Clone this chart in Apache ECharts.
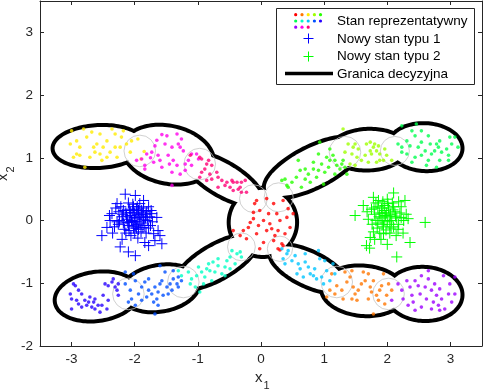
<!DOCTYPE html>
<html><head><meta charset="utf-8">
<script src="https://cdn.jsdelivr.net/npm/echarts@6/dist/echarts.min.js"></script>
<style>html,body{margin:0;padding:0;background:#fff}#c{width:483px;height:391px}</style>
</head><body><div id="c"></div>
<script>
const xTicks = [-3, -2, -1, 0, 1, 2, 3];
const yTicks = [-2, -1, 0, 1, 2, 3];
const legendLabels = ['Stan reprezentatywny', 'Nowy stan typu 1', 'Nowy stan typu 2', 'Granica decyzyjna'];
const clusterColors = ['#ff0000','#ff7600','#ffeb00','#9dff00','#27ff00','#00ff4f','#00ffc4','#00c4ff','#004fff','#2700ff','#9d00ff','#ff00eb','#ff0076'];

const stateRed = [[-0.07,0.32],[0.09,0.35],[0.20,0.27],[0.35,0.32],[-0.02,0.16],[0.25,0.11],[0.43,0.19],[-0.12,0.03],[0.04,0],[0.14,-0.05],[0.30,0],[0.46,-0.11],[-0.20,-0.11],[-0.07,-0.21],[0.09,-0.16],[0.22,-0.24],[0.38,-0.21],[-0.33,-0.24],[-0.23,-0.29],[0.04,-0.35],[0.20,-0.32],[0.33,-0.37],[-0.12,0.13],[0.12,0.11],[-0.04,-0.08],[0.17,-0.13],[0.27,-0.16],[-0.17,-0.03],[0.41,0.05],[-0.02,-0.45],[0.27,-0.45],[0.51,0.11],[-0.44,-0.16],[-0.28,-0.16],[-0.10,0.27],[0.35,-0.40],[0.30,-0.47]];
const stateOrange = [[1.12,-0.85],[1.20,-1.04],[1.09,-1.11],[1.17,-1.17],[1.28,-1.11],[1.33,-0.82],[1.36,-0.98],[1.41,-0.90],[1.44,-0.80],[1.46,-1.06],[1.49,-1.17],[1.54,-1.11],[1.59,-1.01],[1.62,-0.82],[1.70,-0.85],[1.73,-1.06],[1.75,-1.14],[1.78,-0.96],[1.83,-1.19],[1.88,-1.11],[1.91,-1.04],[1.94,-0.85],[1.86,-1.27],[1.99,-1.19],[2.02,-1.01],[1.52,-1.27],[1.30,-1.25],[1.70,-1.25],[1.78,-1.49],[1.04,-1.22],[1.96,-1.33],[2.07,-1.11],[1.65,-0.96],[1.44,-1.25]];
const stateYellow = [[-3.00,1.43],[-2.81,1.46],[-2.92,1.27],[-3.02,1.22],[-2.76,1.33],[-2.65,1.17],[-2.55,1.38],[-2.44,1.27],[-2.36,1.46],[-2.31,1.17],[-2.55,1.06],[-2.71,1.01],[-2.87,1.04],[-2.97,1.01],[-2.79,0.85],[-2.44,1.01],[-2.28,1.01],[-2.21,1.33],[-2.13,1.22],[-2.07,1.09],[-2.39,1.09],[-2.60,1.22],[-2.50,1.17],[-2.87,1.17],[-2.31,1.38],[-2.18,1.43],[-2.68,1.41],[-2.05,1.27],[-2.92,1.06],[-2.52,0.96],[-2.63,1.09],[-2.23,1.17],[-1.95,1.30],[-1.85,1.10],[-1.90,0.98]];
const stateYellowGreen = [[1.30,1.46],[1.38,1.22],[1.46,1.17],[1.49,1.22],[1.54,1.14],[1.44,1.06],[1.52,1.01],[1.33,1.09],[1.67,1.22],[1.73,1.25],[1.78,1.17],[1.80,1.22],[1.86,1.19],[1.83,1.11],[1.88,1.06],[1.75,1.06],[1.70,0.93],[1.88,0.96],[1.59,0.96],[1.96,1.14],[1.99,1.04],[1.94,0.96],[1.49,0.88],[2.07,0.96],[1.73,1.11],[1.65,1.04],[1.41,0.90],[1.83,0.93]];
const stateGreen = [[0.33,0.64],[0.41,0.56],[0.38,0.66],[0.49,0.61],[0.56,0.69],[0.62,0.80],[0.70,0.66],[0.75,0.74],[0.78,0.61],[0.83,0.82],[0.88,0.69],[0.91,0.80],[0.96,0.90],[1.01,0.77],[1.07,0.85],[1.04,1.01],[1.09,0.96],[1.17,0.96],[1.20,0.88],[1.17,0.74],[1.25,0.82],[1.28,0.90],[1.14,1.04],[1.30,0.96],[0.91,1.06],[0.83,0.93],[0.70,0.82],[0.59,0.96],[0.99,0.58],[1.36,0.74],[0.93,1.25],[1.09,1.14],[1.33,0.85],[0.43,0.53],[0.64,0.53]];
const stateSpring = [[2.23,1.51],[2.46,1.54],[2.39,1.43],[2.44,1.35],[2.31,1.27],[2.17,1.22],[2.23,1.17],[2.36,1.19],[2.49,1.17],[2.54,1.25],[2.60,1.11],[2.65,1.35],[2.68,1.22],[2.78,1.22],[2.81,1.17],[2.83,1.27],[2.75,1.11],[2.70,1.06],[2.86,1.09],[2.94,1.14],[3.02,1.22],[2.99,1.33],[3.07,1.33],[3.12,1.17],[2.97,1.04],[2.83,0.96],[2.65,0.96],[2.54,1.04],[2.44,1.01],[2.31,1.06],[2.39,0.93],[2.62,0.88],[2.78,0.85],[2.23,1.09],[2.97,0.96],[2.54,1.43]];
const stateAqua = [[-1.31,-0.80],[-1.26,-0.88],[-1.15,-0.82],[-1.10,-0.93],[-1.12,-1.01],[-1.02,-0.88],[-0.99,-0.74],[-0.94,-0.82],[-0.91,-1.01],[-0.89,-0.90],[-0.83,-0.69],[-0.81,-0.80],[-0.78,-0.96],[-0.73,-0.82],[-0.68,-0.72],[-0.62,-0.85],[-0.57,-0.74],[-0.54,-0.64],[-0.49,-0.58],[-0.46,-0.48],[-0.41,-0.69],[-0.38,-0.53],[-0.33,-0.50],[-0.68,-0.61],[-0.76,-0.66],[-0.97,-1.14],[-1.04,-1.06],[-0.86,-0.77],[-0.57,-0.88],[-0.49,-0.77],[-0.31,-0.58]];
const stateSky = [[0.33,-0.45],[0.41,-0.53],[0.35,-0.61],[0.43,-0.48],[0.49,-0.64],[0.54,-0.56],[0.59,-0.69],[0.62,-0.77],[0.70,-0.53],[0.70,-0.66],[0.75,-0.74],[0.78,-0.85],[0.83,-0.88],[0.85,-0.77],[0.91,-0.48],[0.93,-0.61],[0.88,-0.93],[0.96,-0.90],[0.99,-1.01],[1.04,-0.80],[1.09,-0.96],[1.14,-0.69],[0.57,-0.85],[0.67,-0.90],[1.17,-0.85],[1.01,-0.64],[0.38,-0.69]];
const stateBlue = [[-2.15,-1.01],[-2.07,-1.11],[-1.99,-0.96],[-1.94,-1.17],[-2.05,-1.25],[-2.10,-1.30],[-1.89,-1.06],[-1.84,-0.98],[-1.78,-1.11],[-1.81,-1.22],[-1.73,-1.17],[-1.70,-1.30],[-1.68,-1.06],[-1.63,-1.14],[-1.60,-1.01],[-1.55,-1.19],[-1.57,-0.96],[-1.49,-1.06],[-1.47,-1.17],[-1.44,-1.01],[-1.39,-0.93],[-1.33,-1.01],[-1.31,-0.90],[-1.41,-1.11],[-1.65,-1.25],[-1.89,-1.27],[-1.99,-1.35],[-1.68,-1.49],[-1.60,-0.72],[-2.15,-0.82],[-2.02,-0.85],[-1.52,-0.82],[-1.39,-0.80],[-1.78,-0.93],[-1.63,-1.35],[-1.31,-1.06],[-1.26,-0.96]];
const stateIndigo = [[-3.02,-1.17],[-3.00,-1.25],[-2.89,-1.11],[-2.84,-1.17],[-2.94,-1.04],[-2.79,-1.27],[-2.76,-1.35],[-2.68,-1.38],[-2.65,-1.30],[-2.63,-1.41],[-2.58,-1.35],[-2.55,-1.46],[-2.71,-1.22],[-2.84,-1.38],[-3.00,-1.41],[-2.50,-1.19],[-2.47,-1.01],[-2.42,-1.04],[-2.36,-0.98],[-2.31,-1.06],[-2.34,-0.93],[-2.28,-1.11],[-2.26,-1.19],[-2.42,-1.27],[-2.44,-1.41],[-2.52,-1.35],[-2.92,-1.27],[-2.63,-1.25],[-2.26,-1.01],[-2.97,-1.01],[-2.73,-1.30],[-2.89,-1.33]];
const statePurple = [[2.17,-1.01],[2.23,-1.11],[2.25,-1.25],[2.31,-0.96],[2.36,-1.06],[2.39,-1.19],[2.41,-1.30],[2.44,-0.96],[2.49,-1.04],[2.52,-1.17],[2.54,-1.38],[2.60,-1.06],[2.62,-1.25],[2.65,-0.93],[2.70,-1.11],[2.73,-1.30],[2.75,-1.01],[2.78,-1.19],[2.81,-1.35],[2.83,-1.09],[2.86,-1.25],[2.89,-0.88],[2.91,-1.41],[2.97,-1.17],[2.99,-1.01],[3.02,-1.30],[3.07,-0.90],[2.54,-0.88],[2.33,-1.35],[2.70,-1.41],[2.44,-1.43],[2.83,-1.43],[3.07,-1.17],[2.65,-0.80],[2.07,-1.27]];
const stateMagenta = [[-1.57,1.37],[-1.49,1.35],[-1.33,1.38],[-1.26,1.30],[-1.31,1.22],[-1.28,1.17],[-1.41,1.17],[-1.52,1.22],[-1.68,1.19],[-1.73,1.09],[-1.81,1.06],[-1.89,0.98],[-1.97,0.96],[-1.84,0.88],[-1.70,0.93],[-1.60,0.96],[-1.63,1.04],[-1.47,1.04],[-1.39,0.96],[-1.33,0.88],[-1.41,0.77],[-1.28,0.74],[-1.20,0.90],[-1.15,0.96],[-1.10,1.06],[-1.02,1.06],[-0.99,0.98],[-1.10,0.88],[-1.20,0.80],[-1.41,0.56],[-1.84,0.82],[-1.57,0.85],[-1.23,1.11],[-1.65,1.28],[-1.45,0.90],[-1.75,1.00]];
const statePink = [[-0.94,0.98],[-0.83,0.96],[-0.78,0.88],[-0.89,0.82],[-0.94,0.77],[-0.81,0.74],[-0.70,0.77],[-0.68,0.69],[-0.78,0.66],[-0.62,0.64],[-0.54,0.61],[-0.46,0.64],[-0.38,0.61],[-0.31,0.61],[-0.25,0.64],[-0.57,0.56],[-0.49,0.53],[-0.44,0.48],[-0.36,0.50],[-0.31,0.45],[-0.68,0.53],[-0.97,0.69],[-0.86,0.64],[-1.12,1.04],[-0.97,1.01],[-0.86,0.90],[-0.44,0.61],[-0.33,0.53],[-0.23,0.45]];
const clusters = [stateRed, stateOrange, stateYellow, stateYellowGreen, stateGreen, stateSpring, stateAqua, stateSky, stateBlue, stateIndigo, statePurple, stateMagenta, statePink];

const newType1 = [[-2.15,0.42],[-1.99,0.40],[-1.86,0.32],[-2.28,0.27],[-2.52,-0.24],[-2.44,-0.11],[-2.23,-0.42],[-2.10,-0.50],[-1.99,-0.56],[-1.84,-0.35],[-1.78,-0.40],[-1.70,-0.21],[-1.63,-0.16],[-1.57,-0.37],[-1.60,-0.24],[-1.65,0.05],[-1.73,0.11],[-2.36,0.11],[-2.39,0.0],[-1.92,0.27],[-2.02,0.22],
[-2.25,0.14],[-2.2,0.06],[-2.18,-0.04],[-2.14,0.12],[-2.12,0.02],[-2.1,-0.08],[-2.08,0.18],[-2.06,0.08],[-2.04,-0.02],[-2.02,-0.12],[-2.0,0.12],[-1.98,0.04],[-1.96,-0.06],[-1.94,0.16],[-1.92,0.06],[-1.9,-0.04],[-1.88,0.12],[-1.86,0.02],[-1.84,-0.08],[-1.82,0.1],[-1.8,0.0],[-1.78,-0.12],[-1.76,0.06],[-2.16,-0.14],[-2.26,-0.06],[-2.3,0.2],[-2.22,0.22],[-2.0,-0.2],[-1.9,-0.18],[-2.06,-0.24],[-2.14,-0.2],[-1.72,-0.02],[-1.96,0.22],[-2.1,0.28],[-1.86,0.2],[-2.32,-0.1],[-2.05,0.0],[-1.95,0.1],[-2.0,-0.02],[-2.08,-0.02],[-1.9,0.09],[-2.18,0.16],[-2.03,0.16],[-1.97,-0.12],[-1.82,-0.2],[-1.74,0.16],[-2.2,-0.3],[-1.95,-0.28],[-1.68,-0.32],[-2.4,0.08],[-2.35,-0.2],[-1.78,0.22],
[-2.13,0.07],[-2.01,0.05],[-1.93,-0.01],[-2.07,0.13],[-1.99,-0.09],[-2.11,-0.03],[-1.87,-0.11],[-1.83,0.05],[-2.24,0.0],[-1.97,0.18],[-2.09,-0.16],[-1.81,0.14],[-2.19,0.1],[-1.94,-0.14],[-2.03,0.26],[-1.89,0.16],[-2.28,-0.02],[-1.75,-0.08]];
const newType2 = [[2.60,-0.03],[2.15,-0.58],[1.67,-0.40],[2.36,-0.35],[1.49,0.08],[1.62,0.24],[2.10,0.44],[2.28,0.32],[1.78,0.37],[2.33,0.03],[1.94,-0.21],[1.73,-0.27],[1.72,-0.44],[2.25,-0.2],
[1.75,0.18],[1.8,0.1],[1.82,0.0],[1.85,0.22],[1.88,0.12],[1.9,0.04],[1.92,-0.06],[1.95,0.16],[1.97,0.08],[2.0,-0.02],[2.02,0.2],[2.05,0.1],[2.07,0.0],[2.1,-0.1],[2.12,0.14],[2.15,0.04],[2.18,-0.06],[2.2,0.12],[1.84,-0.12],[1.78,-0.18],[1.98,-0.15],[2.04,-0.2],[1.93,0.3],[2.0,0.34],[1.86,0.32],[2.08,0.28],[2.22,0.22],[1.7,0.02],[1.76,-0.06],[2.26,0.0],[2.14,-0.24],[1.9,-0.3],[1.95,0.0],[2.03,0.06],[1.87,0.06],[1.96,0.24],[2.1,0.22],[1.82,0.28],[2.18,0.3],[1.68,0.14],[2.3,0.1],[1.8,-0.3],[2.0,-0.38],[2.06,-0.12],[1.92,0.12],
[1.99,0.12],[2.04,-0.06],[1.91,0.2],[2.13,0.07],[1.85,-0.04],[2.09,0.17],[1.94,-0.1],[2.17,-0.14],[1.79,0.2],[2.01,0.27],[1.88,-0.2],[2.22,0.05]];

// decision boundary: union of ellipses [cx, cy, semiA, semiB, angleDeg]
const boundaryEllipses = [[0.03,-0.03,0.51,0.52,0],[-0.6,0.66,0.68,0.24,-31],[-1.47,1.05,0.70,0.43,-12],[-2.57,1.18,0.70,0.31,3],
[0.82,0.85,0.82,0.30,27],[1.7,1.13,0.58,0.30,2],[2.6,1.17,0.56,0.35,-3],
[-0.7,-0.66,0.7,0.25,30],[-1.6,-1.08,0.60,0.34,10],[-2.6,-1.21,0.64,0.36,8],
[0.75,-0.77,0.64,0.25,-26],[1.62,-1.12,0.64,0.37,-5],[2.58,-1.17,0.58,0.40,-3]];
const grayCircles = [[-1.92,1.11,0.25],[-0.97,0.90,0.25],[-0.12,0.35,0.22],[0.28,0.37,0.23],[1.33,1.09,0.25],[2.12,1.11,0.23],[-0.31,-0.42,0.22],[0.30,-0.45,0.2],[-1.23,-0.98,0.25],[-2.10,-1.17,0.25],[1.20,-0.98,0.25],[2.02,-1.17,0.25]];

const FONT = '"Liberation Sans", Arial, sans-serif';
const AX = '#262626';

function ellipseItem(fill, stroke, lw) {
  return function (params, api) {
    const cx = api.value(0), cy = api.value(1), a = api.value(2), b = api.value(3), th = api.value(4) * Math.PI / 180;
    const pts = [];
    for (let i = 0; i < 120; i++) {
      const t = i / 120 * 2 * Math.PI;
      const ex = a * Math.cos(t), ey = b * Math.sin(t);
      pts.push(api.coord([cx + ex * Math.cos(th) - ey * Math.sin(th), cy + ex * Math.sin(th) + ey * Math.cos(th)]));
    }
    return { type: 'polygon', shape: { points: pts }, style: { fill: fill, stroke: stroke, lineWidth: lw } };
  };
}
function plusItem(color) {
  return function (params, api) {
    const p = api.coord([api.value(0), api.value(1)]);
    const h = 5.5;
    return { type: 'group', children: [
      { type: 'line', shape: { x1: p[0] - h, y1: p[1], x2: p[0] + h, y2: p[1] }, style: { stroke: color, lineWidth: 1 } },
      { type: 'line', shape: { x1: p[0], y1: p[1] - h, x2: p[0], y2: p[1] + h }, style: { stroke: color, lineWidth: 1 } }
    ] };
  };
}

const series = [];
series.push({ type: 'custom', z: 1, data: boundaryEllipses, encode: { x: 0, y: 1 }, renderItem: ellipseItem('#fff', '#000', 8), silent: true });
series.push({ type: 'custom', z: 2, data: boundaryEllipses, encode: { x: 0, y: 1 }, renderItem: ellipseItem('#fff', null, 0), silent: true });
series.push({ type: 'custom', z: 3, data: grayCircles, encode: { x: 0, y: 1 }, silent: true,
  renderItem: function (params, api) {
    const p = api.coord([api.value(0), api.value(1)]);
    const r = api.size([api.value(2), 0])[0];
    return { type: 'circle', shape: { cx: p[0], cy: p[1], r: r }, style: { fill: null, stroke: '#c4c4c4', lineWidth: 0.8 } };
  } });
clusters.forEach(function (pts, i) {
  series.push({ type: 'scatter', z: 4, data: pts, symbol: 'circle', symbolSize: 3.6, itemStyle: { color: clusterColors[i] }, silent: true });
});
series.push({ type: 'custom', z: 5, data: newType1, encode: { x: 0, y: 1 }, renderItem: plusItem('#0000ff'), silent: true });
series.push({ type: 'custom', z: 5, data: newType2, encode: { x: 0, y: 1 }, renderItem: plusItem('#00ff00'), silent: true });

function xAxisCfg(pos, showLabel) {
  return { type: 'value', min: -3.5, max: 3.5, position: pos,
    axisLine: { show: true, onZero: false, lineStyle: { color: AX, width: 1 } },
    axisTick: { show: true, inside: true, length: 4, customValues: xTicks, lineStyle: { color: AX } },
    axisLabel: { show: showLabel, customValues: xTicks, color: AX, fontSize: 13.5, fontFamily: FONT, margin: 6 },
    splitLine: { show: false } };
}
function yAxisCfg(pos, showLabel) {
  return { type: 'value', min: -2, max: 3.5, position: pos,
    axisLine: { show: true, onZero: false, lineStyle: { color: AX, width: 1 } },
    axisTick: { show: true, inside: true, length: 4, customValues: yTicks, lineStyle: { color: AX } },
    axisLabel: { show: showLabel, customValues: yTicks, color: AX, fontSize: 13.5, fontFamily: FONT, margin: 7 },
    splitLine: { show: false } };
}

const legendDots = [];
const dotCols = [295.7, 302, 308.2, 314.4, 320.5];
const dotRows = [14.7, 21, 27.2];
clusterColors.forEach(function (c, i) {
  legendDots.push({ type: 'circle', z: 101, shape: { cx: dotCols[i % 5], cy: dotRows[Math.floor(i / 5)], r: 1.6 }, style: { fill: c } });
});
function legendPlus(x, y, c) {
  return [
    { type: 'line', z: 101, shape: { x1: x - 5, y1: y, x2: x + 5, y2: y }, style: { stroke: c, lineWidth: 1 } },
    { type: 'line', z: 101, shape: { x1: x, y1: y - 5, x2: x, y2: y + 5 }, style: { stroke: c, lineWidth: 1 } }
  ];
}
const textY = [21.5, 39, 56.5, 74];
const graphics = [
  { type: 'rect', z: 100, shape: { x: 276.5, y: 8.5, width: 198, height: 76 }, style: { fill: '#fff', stroke: AX, lineWidth: 1 } }
].concat(legendDots, legendPlus(308.5, 38.5, '#0000ff'), legendPlus(308.5, 56.5, '#00ff00'), [
  { type: 'line', z: 101, shape: { x1: 285, y1: 73.5, x2: 333, y2: 73.5 }, style: { stroke: '#000', lineWidth: 3.5 } }
], legendLabels.map(function (t, i) {
  return { type: 'text', z: 101, x: 337, y: textY[i], style: { text: t, font: '13.5px ' + FONT, fill: '#000', align: 'left', verticalAlign: 'middle' } };
}), [
  { type: 'text', x: 255, y: 377.5, style: { text: 'x', font: '15px ' + FONT, fill: AX, align: 'left', verticalAlign: 'middle' } },
  { type: 'text', x: 263.5, y: 386, style: { text: '1', font: '11px ' + FONT, fill: AX, align: 'left', verticalAlign: 'middle' } },
  { type: 'group', x: 3, y: 181, rotation: Math.PI / 2, children: [
    { type: 'text', x: 0, y: 0, style: { text: 'x', font: '15px ' + FONT, fill: AX, align: 'left', verticalAlign: 'middle' } },
    { type: 'text', x: 8.5, y: 8, style: { text: '2', font: '11px ' + FONT, fill: AX, align: 'left', verticalAlign: 'middle' } }
  ] }
]);

const chart = echarts.init(document.getElementById('c'), null, { renderer: 'canvas' });
chart.setOption({
  animation: false,
  backgroundColor: '#fff',
  grid: { left: 40, right: 1, top: 1, bottom: 45, containLabel: false },
  xAxis: [xAxisCfg('bottom', true), xAxisCfg('top', false)],
  yAxis: [yAxisCfg('left', true), yAxisCfg('right', false)],
  series: series,
  graphic: graphics
});
</script></body></html>
